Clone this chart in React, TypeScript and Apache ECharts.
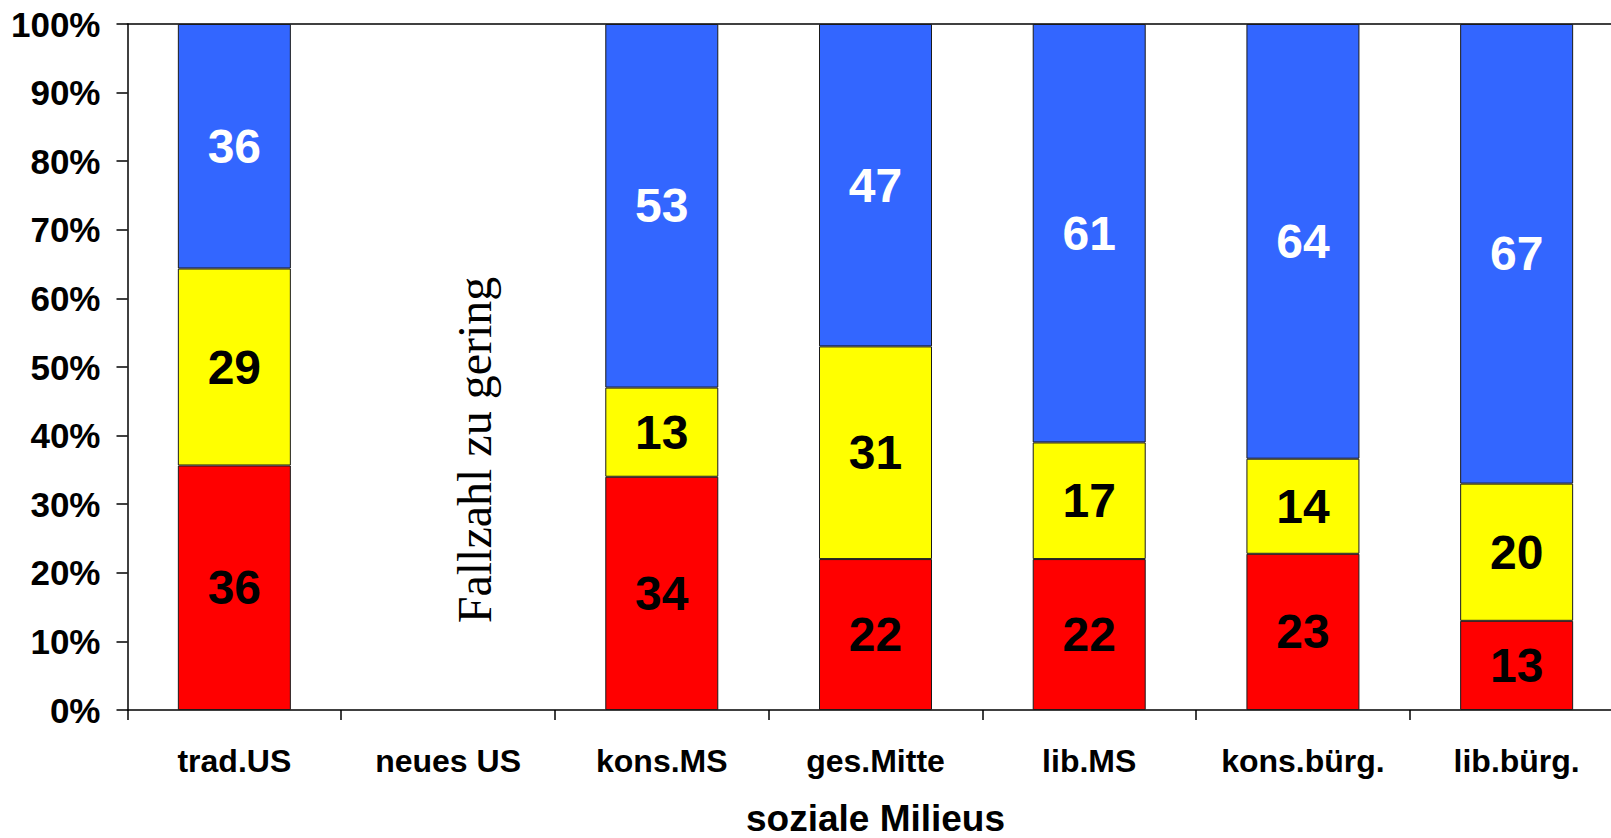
import React, { useEffect, useRef } from "react";
import * as echarts from "echarts";

const categories = ["trad.US", "neues US", "kons.MS", "ges.Mitte", "lib.MS", "kons.bürg.", "lib.bürg."];
const redValues: (number | null)[] = [36, null, 34, 22, 22, 23, 13];
const yellowValues: (number | null)[] = [29, null, 13, 31, 17, 14, 20];
const blueValues: (number | null)[] = [36, null, 53, 47, 61, 64, 67];
const yTicks = [0, 10, 20, 30, 40, 50, 60, 70, 80, 90, 100];
const axisTitle = "soziale Milieus";
const note = "Fallzahl zu gering";

const FONT = "'Liberation Sans', Arial, Helvetica, sans-serif";

export default function App() {
  const ref = useRef<HTMLDivElement>(null);
  useEffect(() => {
    if (!ref.current) return;
    const chart = echarts.init(ref.current, null, { renderer: "svg" });
    const totals = categories.map((_, i) => {
      const r = redValues[i], y = yellowValues[i], b = blueValues[i];
      if (r == null || y == null || b == null) return null;
      return r + y + b;
    });
    const toPct = (arr: (number | null)[]) =>
      arr.map((v, i) => (v == null || totals[i] == null ? "-" : (v / (totals[i] as number)) * 100));
    const mk = (name: string, arr: (number | null)[], color: string, labelColor: string) => ({
      name,
      type: "bar",
      stack: "total",
      barWidth: 113,
      data: toPct(arr),
      itemStyle: { color, borderColor: "#1a1a1a", borderWidth: 1 },
      label: {
        show: true,
        position: "inside",
        color: labelColor,
        fontFamily: FONT,
        fontWeight: "bold",
        fontSize: 48,
        formatter: (p: any) => (arr[p.dataIndex] == null ? "" : String(arr[p.dataIndex])),
      },
    });
    chart.setOption({
      animation: false,
      backgroundColor: "#ffffff",
      grid: { left: 127.5, top: 24, bottom: 128, width: 1496, containLabel: false, outerBoundsMode: "none" },
      xAxis: [
        {
          type: "category",
          data: categories,
          position: "bottom",
          axisLine: { show: true, lineStyle: { color: "#000", width: 1.5 } },
          axisTick: { show: true, length: 10, alignWithLabel: false, lineStyle: { color: "#000", width: 1.5 } },
          axisLabel: { color: "#000", fontFamily: FONT, fontWeight: "bold", fontSize: 32, margin: 35, interval: 0 },
          name: axisTitle,
          nameLocation: "middle",
          nameGap: 90,
          nameTextStyle: { color: "#000", fontFamily: FONT, fontWeight: "bold", fontSize: 37 },
        },
        {
          type: "category",
          data: categories,
          position: "top",
          axisLine: { show: true, lineStyle: { color: "#000", width: 1.5 } },
          axisTick: { show: false },
          axisLabel: { show: false },
        },
      ],
      yAxis: {
        type: "value",
        min: yTicks[0],
        max: yTicks[yTicks.length - 1],
        interval: 10,
        axisLine: { show: true, lineStyle: { color: "#000", width: 1.5 } },
        axisTick: { show: true, length: 11, lineStyle: { color: "#000", width: 1.5 } },
        splitLine: { show: false },
        axisLabel: {
          color: "#000",
          fontFamily: FONT,
          fontWeight: "bold",
          fontSize: 35,
          margin: 27,
          formatter: "{value}%",
        },
      },
      series: [
        mk("rot", redValues, "#FF0000", "#000000"),
        mk("gelb", yellowValues, "#FFFF00", "#000000"),
        mk("blau", blueValues, "#3366FF", "#FFFFFF"),
      ],
      graphic: [
        {
          type: "text",
          x: 474,
          y: 450,
          rotation: Math.PI / 2,
          style: {
            text: note,
            font: "48px 'Liberation Serif', 'Times New Roman', serif",
            fill: "#000",
            align: "center",
            verticalAlign: "middle",
          },
        },
      ],
    });
    return () => chart.dispose();
  }, []);
  return <div ref={ref} style={{ position: "fixed", left: 0, top: 0, width: 1611, height: 838 }} />;
}
